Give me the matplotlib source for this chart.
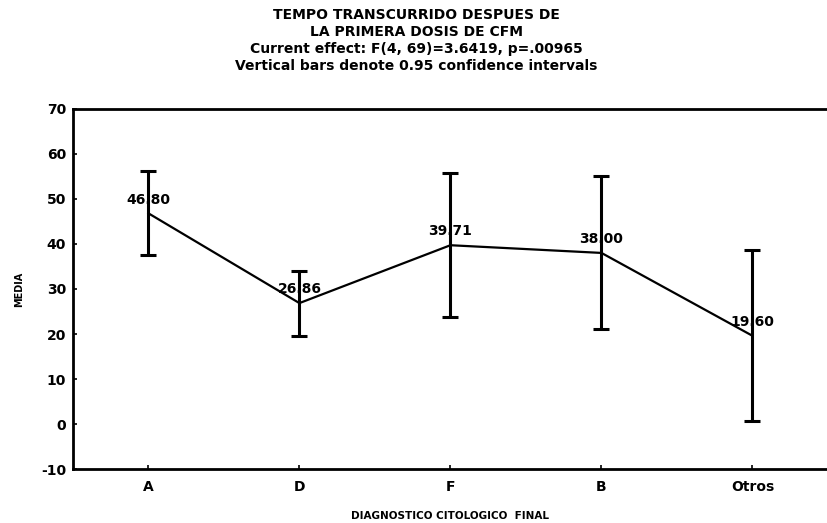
import matplotlib
matplotlib.use("Agg")
import matplotlib.pyplot as plt

# datos
categorias = ["A", "D", "F", "B", "Otros"]
medias = [46.80, 26.86, 39.71, 38.00, 19.60]
ic_95 = [9.3, 7.2, 16.0, 17.0, 19.0]
etiquetas = ["46.80", "26.86", "39.71", "38.00", "19.60"]
y_ticks = [-10, 0, 10, 20, 30, 40, 50, 60, 70]

titulo = ["TEMPO TRANSCURRIDO DESPUES DE",
          "LA PRIMERA DOSIS DE CFM",
          "Current effect: F(4, 69)=3.6419, p=.00965",
          "Vertical bars denote 0.95 confidence intervals"]

plt.rcParams["font.family"] = ["DejaVu Sans"]
plt.rcParams["font.weight"] = "bold"
plt.rcParams["axes.unicode_minus"] = False

fig = plt.figure(figsize=(8.28, 5.23), dpi=100)
ax = fig.add_axes([0.088, 0.103, 0.912, 0.689])

x = list(range(len(categorias)))
ax.plot(x, medias, color="black", lw=1.6, zorder=2)
ax.errorbar(x, medias, yerr=ic_95, fmt="none", ecolor="black",
            elinewidth=2.2, capsize=6, capthick=2.2, zorder=3)

for xi, m, t in zip(x, medias, etiquetas):
    ax.text(xi, m + 1.5, t, ha="center", va="bottom",
            fontsize=10, fontweight="bold", zorder=4)

ax.set_xlim(-0.5, 4.5)
ax.set_ylim(-10, 70)
ax.set_xticks(x)
ax.set_xticklabels(categorias, fontsize=10, fontweight="bold")
ax.set_yticks(y_ticks)
ax.set_yticklabels([str(v) for v in y_ticks], fontsize=10, fontweight="bold")
ax.tick_params(axis="y", direction="in", length=3, width=1.2, pad=5)
ax.tick_params(axis="x", direction="in", length=3, width=1.2, pad=8)
ax.spines["right"].set_visible(False)
for s in ["left", "top", "bottom"]:
    ax.spines[s].set_linewidth(2.0)

ax.set_xlabel("DIAGNOSTICO CITOLOGICO  FINAL", fontsize=7.5, fontweight="bold", labelpad=12)
ax.set_ylabel("MEDIA", fontsize=7, fontweight="bold", labelpad=12)

# titulo en cuatro lineas
ys = [0.971, 0.939, 0.906, 0.874]
for y, t in zip(ys, titulo):
    fig.text(0.503, y, t, ha="center", va="center", fontsize=10, fontweight="bold")

fig.savefig("out.png", dpi=100)
